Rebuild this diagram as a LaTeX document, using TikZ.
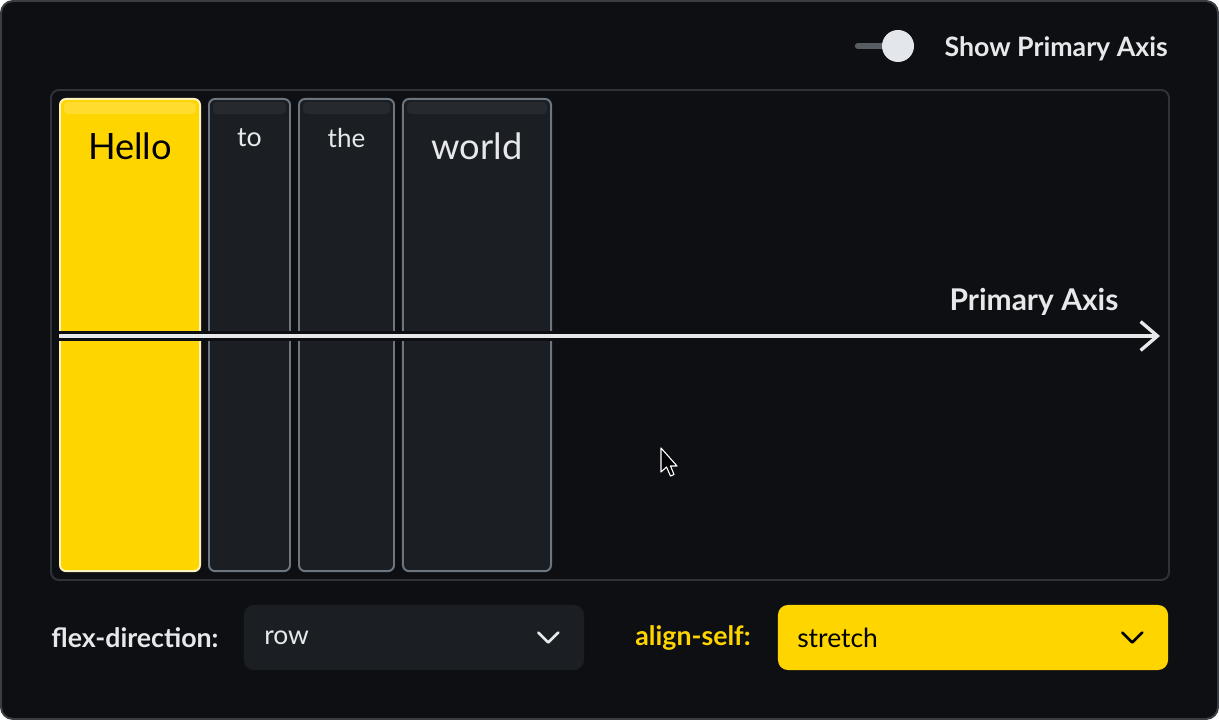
\documentclass[tikz,border=0pt]{standalone}
\usepackage{fontspec}
\setmainfont{Lato}
\usepackage{tikz}
\usetikzlibrary{positioning, arrows.meta}

\definecolor{bgdark}{RGB}{14,15,19}
\definecolor{frameline}{RGB}{58,61,66}
\definecolor{panelline}{RGB}{47,51,56}
\definecolor{itemfill}{RGB}{27,31,35}
\definecolor{itemline}{RGB}{108,118,128}
\definecolor{stripedark}{RGB}{38,42,47}
\definecolor{flexyellow}{RGB}{255,213,0}
\definecolor{stripeyellow}{RGB}{255,220,45}
\definecolor{helloline}{RGB}{255,244,190}
\definecolor{lighttxt}{RGB}{230,232,234}
\definecolor{knobfill}{RGB}{227,230,234}
\definecolor{trackline}{RGB}{88,93,100}

\begin{document}
\begin{tikzpicture}[x=0.025cm, y=-0.025cm,
  item/.style={rectangle, rounded corners=0.15cm, draw=itemline, fill=itemfill,
    line width=1.4pt, minimum height=11.8cm, inner sep=0pt},
  big word/.style={font=\fontsize{25.8}{31}\selectfont, text=lighttxt, inner sep=0pt},
  small word/.style={font=\fontsize{19}{23}\selectfont, text=lighttxt, inner sep=0pt},
  bold label/.style={font=\bfseries\fontsize{19}{23}\selectfont, text=lighttxt, inner sep=0pt},
  plain label/.style={font=\fontsize{18.8}{23}\selectfont, text=lighttxt, inner sep=0pt},
  dropdown/.style={rectangle, rounded corners=0.25cm, minimum height=1.625cm, inner sep=0pt},
  chevron/.style={line width=1.9pt, line cap=round, line join=round}]

\useasboundingbox (0,0) rectangle (1219,720);
\draw[frameline, fill=bgdark, line width=1.4pt, rounded corners=0.3cm] (1,1) rectangle (1218,719);
\draw[panelline, line width=1.4pt, rounded corners=0.2cm] (51,90) rectangle (1169,580);

\node[item, fill=flexyellow, draw=helloline, minimum width=3.5cm, anchor=north west] (hello) at (59,98) {};
\node[item, minimum width=2.025cm, right=0.175cm of hello] (to) {};
\node[item, minimum width=2.375cm, right=0.175cm of to] (the) {};
\node[item, minimum width=3.7cm, right=0.175cm of the] (world) {};

\fill[stripeyellow, rounded corners=0.1cm] ([shift={(5,4)}]hello.north west) rectangle ([shift={(-5,16)}]hello.north east);
\foreach \n in {to,the,world}
  \fill[stripedark, rounded corners=0.1cm] ([shift={(5,4)}]\n.north west) rectangle ([shift={(-5,16)}]\n.north east);

\node[big word, text=black] (hellotxt) at ([shift={(0,48)}]hello.north) {Hello};
\node[small word] (totxt) at ([shift={(0,40)}]to.north) {to};
\node[small word, font=\fontsize{18.5}{22}\selectfont] (thetxt) at ([shift={(0,40)}]the.north) {the};
\node[big word] (worldtxt) at ([shift={(0,48)}]world.north) {world};

\coordinate (axstart) at (59,336);
\coordinate (axend) at (1160,336);
\draw[bgdark, line width=7pt] (axstart) -- (axend);
\draw[lighttxt, line width=2.4pt, -{Straight Barb[length=0.42cm, width=0.72cm]}] (axstart) -- (axend);
\node[bold label, font=\bfseries\fontsize{21.3}{25}\selectfont] (axislabel) at (1034,302) {Primary Axis};

\draw[trackline, line width=4.5pt, line cap=round] (858,46) -- (895,46);
\node[circle, fill=knobfill, minimum size=0.8cm, inner sep=0pt] (knob) at (898,46) {};
\node[bold label, anchor=west, right=0.75cm of knob, yshift=-0.06cm] (showaxis) {Show Primary Axis};

\node[bold label] (flexdir) at (135,638) {flex-direction:};
\node[dropdown, fill=itemfill, minimum width=8.5cm] (ddrow) at (414,637.5) {};
\node[plain label, anchor=west] (rowtxt) at (264,638) {row};
\draw[chevron, lighttxt] ([shift={(-46,-5)}]ddrow.east) -- ++(10,10) -- ++(10,-10);

\node[bold label, text=flexyellow] (alignself) at (693,638) {align-self:};
\node[dropdown, fill=flexyellow, minimum width=9.75cm] (ddalign) at (973,637.5) {};
\node[plain label, text=black, anchor=west] (stretchtxt) at (797,638) {stretch};
\draw[chevron, black] ([shift={(-46,-5)}]ddalign.east) -- ++(10,10) -- ++(10,-10);

\draw[white, fill=black, line width=0.8pt, line join=round] (661,448) -- (661,472) -- (666.5,467) -- (670.5,476)
  -- (674,474.5) -- (670.5,466) -- (677,466) -- cycle;

\end{tikzpicture}
\end{document}
